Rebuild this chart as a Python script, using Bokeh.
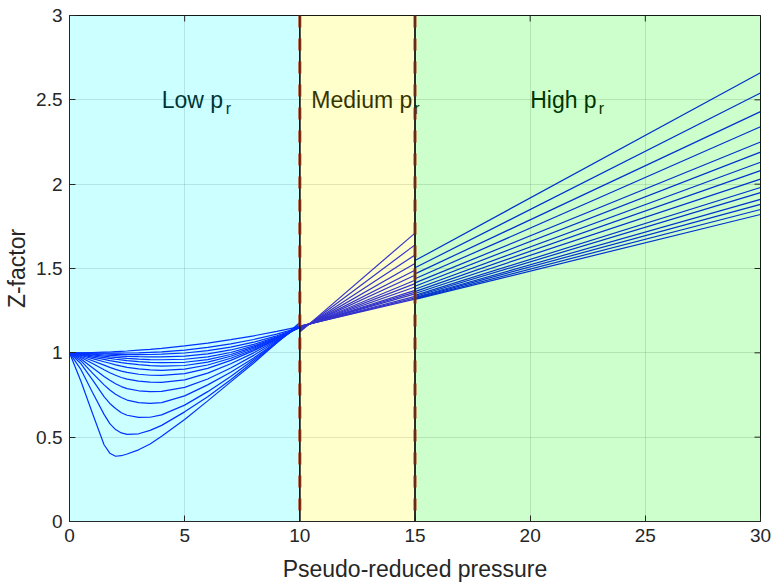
import math
from bokeh.plotting import figure
from bokeh.models import Range1d, FixedTicker, Span, ColumnDataSource
from bokeh.core.properties import value
from bokeh.embed import file_html
from bokeh.resources import INLINE

# ---- data ----
x_ticks = [0, 5, 10, 15, 20, 25, 30]
y_ticks = [0, 0.5, 1, 1.5, 2, 2.5, 3]
y_tick_labels = ["0", "0.5", "1", "1.5", "2", "2.5", "3"]
x_min, x_max = 0, 30
y_min, y_max = 0, 3

region_left = [0, 10, 15]
region_right = [10, 15, 30]
region_colors = ["#00ffff", "#ffff00", "#00ff00"]
region_names = ["Low p", "Medium p", "High p"]
region_text_x = [4, 10.5, 20]
region_text_y = [2.5, 2.5, 2.5]
boundaries = [10, 15]

# low pseudo-reduced pressure region (one list per curve)
low_x = [0, 0.5, 1, 1.5, 1.75, 2, 2.25, 2.5, 3, 3.5, 4, 5, 6, 7, 8, 9, 10]
low_c0 = [1.0, 0.83, 0.64, 0.455, 0.405, 0.387, 0.39, 0.40, 0.425, 0.46, 0.505, 0.605, 0.715, 0.828, 0.94, 1.06, 1.18]
low_c1 = [1.0, 0.90, 0.765, 0.635, 0.58, 0.545, 0.525, 0.517, 0.52, 0.54, 0.57, 0.65, 0.74, 0.84, 0.95, 1.06, 1.17]
low_c2 = [1.0, 0.935, 0.84, 0.74, 0.70, 0.67, 0.645, 0.63, 0.617, 0.618, 0.632, 0.69, 0.77, 0.86, 0.96, 1.063, 1.165]
low_c3 = [1.0, 0.952, 0.88, 0.81, 0.78, 0.755, 0.735, 0.72, 0.705, 0.70, 0.705, 0.745, 0.81, 0.885, 0.97, 1.065, 1.16]
low_c4 = [1.0, 0.963, 0.912, 0.86, 0.837, 0.817, 0.80, 0.788, 0.775, 0.77, 0.771, 0.795, 0.845, 0.91, 0.985, 1.07, 1.16]
low_c5 = [1.0, 0.972, 0.937, 0.90, 0.882, 0.867, 0.854, 0.844, 0.832, 0.826, 0.825, 0.84, 0.88, 0.935, 1.0, 1.075, 1.155]
low_c6 = [1.0, 0.978, 0.953, 0.927, 0.914, 0.902, 0.892, 0.884, 0.873, 0.867, 0.866, 0.877, 0.908, 0.955, 1.013, 1.08, 1.155]
low_c7 = [1.0, 0.984, 0.966, 0.947, 0.938, 0.929, 0.921, 0.914, 0.905, 0.899, 0.896, 0.903, 0.928, 0.968, 1.02, 1.083, 1.153]
low_c8 = [1.0, 0.988, 0.975, 0.961, 0.954, 0.948, 0.942, 0.937, 0.93, 0.924, 0.921, 0.925, 0.945, 0.98, 1.027, 1.085, 1.152]
low_c9 = [1.0, 0.991, 0.982, 0.972, 0.967, 0.962, 0.958, 0.954, 0.948, 0.944, 0.942, 0.944, 0.96, 0.99, 1.034, 1.088, 1.151]
low_c10 = [1.0, 0.994, 0.987, 0.98, 0.976, 0.973, 0.97, 0.967, 0.963, 0.96, 0.959, 0.962, 0.976, 1.002, 1.041, 1.091, 1.15]
low_c11 = [1.0, 0.996, 0.992, 0.987, 0.985, 0.983, 0.981, 0.979, 0.977, 0.976, 0.976, 0.98, 0.994, 1.017, 1.05, 1.095, 1.149]
low_c12 = [1.0, 0.998, 0.995, 0.993, 0.992, 0.991, 0.99, 0.989, 0.989, 0.99, 0.992, 0.999, 1.013, 1.034, 1.063, 1.101, 1.149]
low_c13 = [1.0, 0.999, 0.999, 0.998, 0.998, 0.998, 0.998, 0.999, 1.0, 1.003, 1.006, 1.016, 1.032, 1.053, 1.079, 1.111, 1.15]
low_c14 = [1.0, 1.0, 1.002, 1.004, 1.005, 1.007, 1.009, 1.011, 1.016, 1.021, 1.027, 1.041, 1.058, 1.078, 1.101, 1.127, 1.155]
low_curves = [low_c0, low_c1, low_c2, low_c3, low_c4, low_c5, low_c6, low_c7,
              low_c8, low_c9, low_c10, low_c11, low_c12, low_c13, low_c14]

# medium region (straight segments 10 -> 15)
med_x = [10, 15]
med_start = [1.123, 1.129, 1.134, 1.139, 1.142, 1.145, 1.147, 1.149, 1.151, 1.153, 1.154, 1.155, 1.156, 1.157, 1.158]
med_end = [1.71, 1.64, 1.58, 1.53, 1.49, 1.46, 1.43, 1.41, 1.39, 1.37, 1.36, 1.35, 1.335, 1.326, 1.318]

# high region (straight segments 15 -> 30)
high_x = [15, 30]
high_start = [1.547, 1.504, 1.468, 1.439, 1.415, 1.395, 1.377, 1.363, 1.352, 1.341, 1.334, 1.328, 1.324, 1.320, 1.317]
high_end = [2.66, 2.54, 2.43, 2.34, 2.25, 2.19, 2.13, 2.08, 2.03, 1.98, 1.95, 1.91, 1.88, 1.85, 1.82]

# ---- figure ----
AX = "#262626"
FONT = "Liberation Sans"

p = figure(frame_width=691, frame_height=506,
           x_range=Range1d(x_min, x_max), y_range=Range1d(y_min, y_max),
           output_backend="svg", toolbar_location=None,
           min_border_left=69, min_border_right=11,
           min_border_top=15, min_border_bottom=62,
           background_fill_color="white", border_fill_color="white")
p.outline_line_color = AX
p.outline_line_width = 1

p.xaxis.ticker = FixedTicker(ticks=x_ticks)
p.yaxis.ticker = FixedTicker(ticks=y_ticks)
p.yaxis.major_label_overrides = {t: l for t, l in zip(y_ticks, y_tick_labels)}
for ax in (p.xaxis[0], p.yaxis[0]):
    ax.major_tick_in = 6
    ax.major_tick_out = 0
    ax.minor_tick_in = 0
    ax.minor_tick_out = 0
    ax.axis_line_color = AX
    ax.major_tick_line_color = AX
    ax.major_label_text_font = FONT
    ax.major_label_text_font_size = "19px"
    ax.major_label_text_color = AX
    ax.axis_label_text_font = FONT
    ax.axis_label_text_font_size = "23px"
    ax.axis_label_text_font_style = "normal"
    ax.axis_label_text_color = AX
p.xaxis.axis_label = "Pseudo-reduced pressure"
p.yaxis.axis_label = "Z-factor"
p.xaxis.major_label_standoff = 7
p.yaxis.major_label_standoff = 7
p.xaxis.axis_label_standoff = 11
p.yaxis.axis_label_standoff = 3

p.xgrid.ticker = FixedTicker(ticks=x_ticks)
p.ygrid.ticker = FixedTicker(ticks=y_ticks)
p.grid.grid_line_color = AX
p.grid.grid_line_alpha = 0.15
p.grid.grid_line_width = 1

# curves
p.multi_line(xs=[low_x] * len(low_curves), ys=low_curves, line_color="#0000ff", line_width=1.2)
p.multi_line(xs=[med_x] * len(med_start), ys=[[a, b] for a, b in zip(med_start, med_end)],
             line_color="#0000ff", line_width=1.2)
p.multi_line(xs=[high_x] * len(high_start), ys=[[a, b] for a, b in zip(high_start, high_end)],
             line_color="#0000ff", line_width=1.2)

# region labels (p with subscript r)
src = ColumnDataSource(dict(x=region_text_x, y=region_text_y, text=region_names,
                            sub=["r"] * 3, off=[64.0, 103.0, 68.5]))
p.text(x="x", y="y", text="text", source=src, text_font=value(FONT), text_font_size="23px",
       text_color="black", text_align="left", text_baseline="middle")
p.text(x="x", y="y", text="sub", source=src, x_offset="off", y_offset=9,
       text_font=value(FONT), text_font_size="16px",
       text_color="black", text_align="left", text_baseline="middle")

# translucent region patches on top
p.quad(left=region_left, right=region_right, bottom=y_min, top=y_max,
       fill_color=region_colors, fill_alpha=0.2, line_color="black", line_width=1)

# mirrored inward ticks on the right and top edges (half of each dash is clipped by the frame)
p.scatter(x=[x_max] * len(y_ticks), y=y_ticks, marker="dash", size=12,
          line_color=AX, line_width=1)
p.scatter(x=x_ticks, y=[y_max] * len(x_ticks), marker="dash", size=12, angle=math.pi / 2,
          line_color=AX, line_width=1)

for b in boundaries:
    p.add_layout(Span(location=b, dimension="height", line_color="#b03c1a",
                      line_width=3, line_dash="12 11"))
for b in boundaries:
    p.add_layout(Span(location=b, dimension="height", line_color="#1a1a1a", line_width=1))

open("out.html", "w").write(file_html(p, INLINE))
